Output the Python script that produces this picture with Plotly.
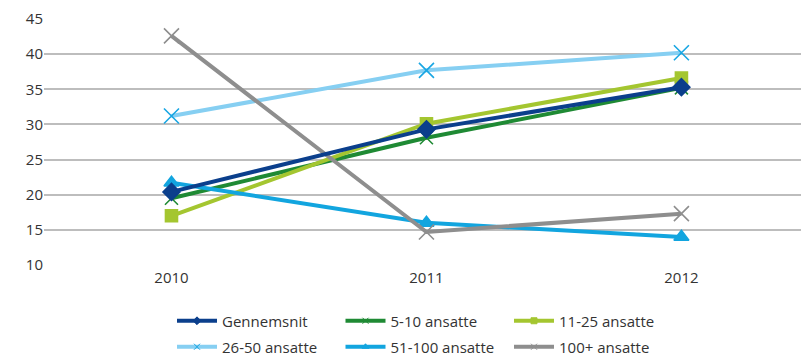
import plotly.graph_objects as go

years = ["2010", "2011", "2012"]

gennemsnit = [20.4, 29.3, 35.3]
ansatte_5_10 = [19.5, 28.1, 35.2]
ansatte_11_25 = [17.0, 30.1, 36.6]
ansatte_26_50 = [31.2, 37.7, 40.2]
ansatte_51_100 = [21.7, 16.0, 14.0]
ansatte_100 = [42.6, 14.7, 17.3]

y_ticks = [10, 15, 20, 25, 30, 35, 40, 45]

# name, values, line colour, marker colour, marker symbol, marker size, legend, rank
series = [
    ("5-10 ansatte", ansatte_5_10, "#1f8a34", "#1f8a34", "x-thin-open", 13, "legend", 2),
    ("11-25 ansatte", ansatte_11_25, "#a4c630", "#a4c630", "square", 12, "legend", 3),
    ("26-50 ansatte", ansatte_26_50, "#86cff2", "#18a6e3", "x-thin-open", 15, "legend2", 4),
    ("51-100 ansatte", ansatte_51_100, "#12a5df", "#12a5df", "triangle-up", 13, "legend2", 5),
    ("100+ ansatte", ansatte_100, "#8e8e8e", "#8e8e8e", "x-thin-open", 15, "legend2", 6),
    ("Gennemsnit", gennemsnit, "#0b3f8c", "#0b3f8c", "diamond", 13, "legend", 1),
]

fig = go.Figure()
for name, vals, lcol, mcol, sym, size, leg, rank in series:
    # the plotted series
    fig.add_trace(go.Scatter(
        x=years, y=vals, name=name, mode="lines+markers",
        line=dict(color=lcol, width=4),
        marker=dict(symbol=sym, size=size, color=mcol,
                    line=dict(color=mcol, width=1.6)),
        showlegend=False, legendgroup=name,
    ))
    # legend key with a small marker
    fig.add_trace(go.Scatter(
        x=[None], y=[None], name=name, mode="lines+markers",
        line=dict(color=lcol, width=4),
        marker=dict(symbol=sym, size=6, color=mcol,
                    line=dict(color=mcol, width=1)),
        legend=leg, legendrank=rank, legendgroup=name,
    ))

legend_common = dict(
    orientation="h", xref="container", yref="container",
    xanchor="left", yanchor="middle",
    entrywidth=113.5, entrywidthmode="pixels",
    font=dict(size=15, color="#333333"),
    itemwidth=40,
    traceorder="normal", bgcolor="rgba(0,0,0,0)",
)

fig.update_layout(
    width=801, height=356,
    margin=dict(l=44, r=0, t=19, b=91),
    paper_bgcolor="white", plot_bgcolor="white",
    font=dict(family="Open Sans, sans-serif", size=15, color="#333333"),
    showlegend=True,
    legend=dict(legend_common, x=172 / 801, y=1 - 321 / 356),
    legend2=dict(legend_common, x=172 / 801, y=1 - 347 / 356),
)
fig.update_xaxes(
    type="category", range=[-0.5, 2.469],
    showgrid=False, showline=False, zeroline=False,
    ticks="", ticklabelstandoff=2,
    tickfont=dict(size=15, color="#333333"),
)
fig.update_yaxes(
    range=[10, 45], tickvals=y_ticks,
    showgrid=True, gridcolor="#bdbdbd", gridwidth=1.5,
    zeroline=False, showline=False, ticks="",
    tickfont=dict(size=15, color="#333333"),
)

fig.write_html("out.html")
